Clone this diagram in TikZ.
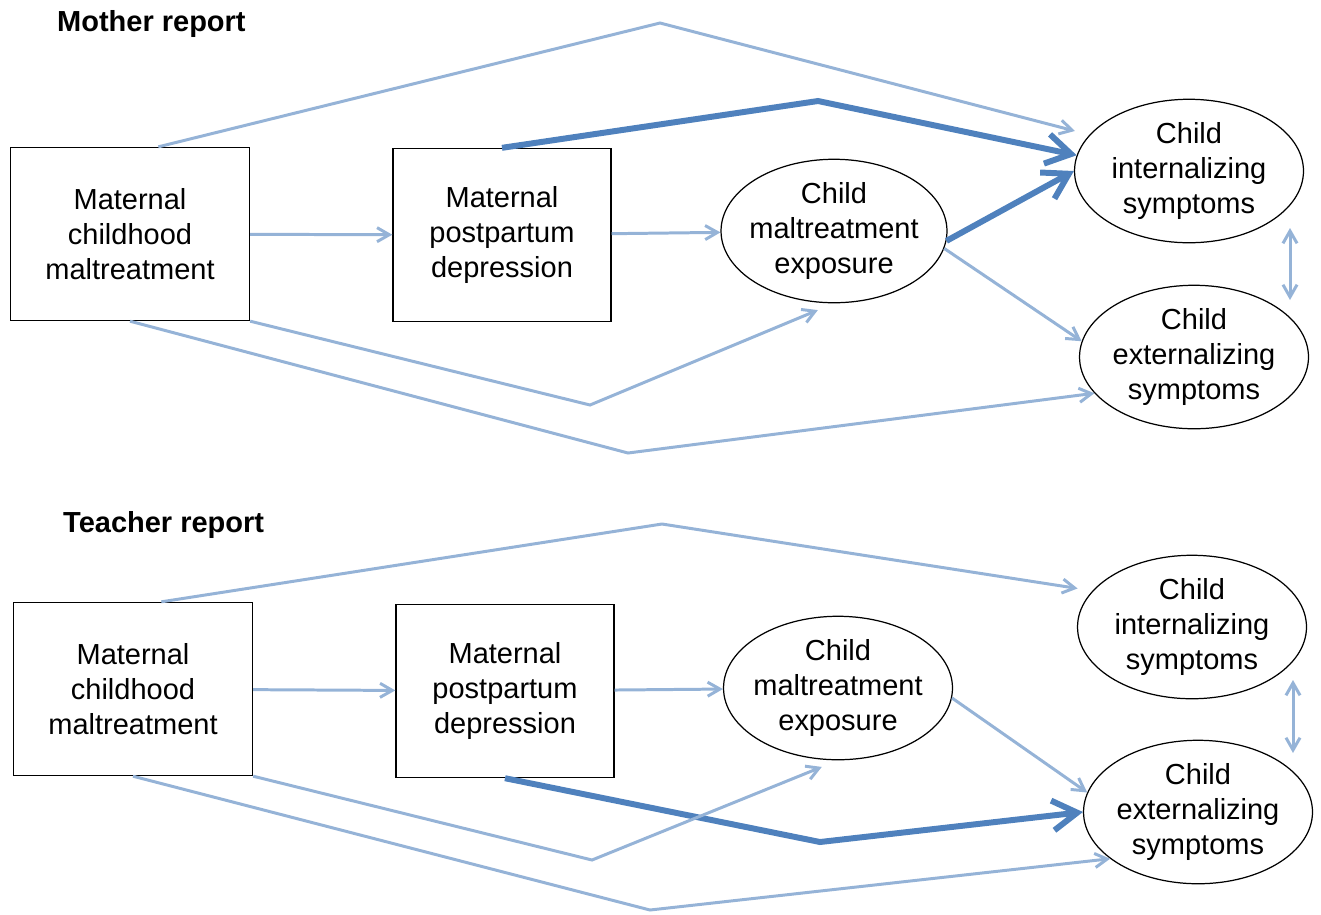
\documentclass[tikz,border=0pt]{standalone}
\usepackage{fontspec}
\setmainfont{Liberation Sans}
\usetikzlibrary{arrows.meta,shapes.geometric}

\definecolor{pathlight}{HTML}{95B3D7}
\definecolor{pathdark}{HTML}{4F81BD}

\begin{document}
\begin{tikzpicture}[x=0.02cm, y=-0.02cm, font=\fontsize{16.5}{20}\selectfont,
  box/.style={rectangle, draw, line width=0.8pt, align=center, minimum width=4.78cm, minimum height=3.46cm},
  oval/.style={ellipse, draw, line width=0.7pt, align=center, inner sep=0pt, inner xsep=-3pt, minimum width=4.58cm, minimum height=2.87cm},
  weak/.style={pathlight, line width=1.7pt, >={Straight Barb[length=7pt, width=8pt]}, ->},
  strong/.style={pathdark, line width=3.4pt, >={Straight Barb[length=14pt, width=17pt]}, ->},
  title/.style={anchor=west, font=\fontsize{16.5}{20}\selectfont\bfseries}]
\useasboundingbox (0,0) rectangle (1321,914);

% Mother report
\node[title] (mtitle) at (51,24) {Mother report};
\node[box] (a1) at (130,234) {Maternal\\childhood\\maltreatment};
\node[box, minimum width=4.36cm] (b1) at (502,235) {Maternal\\postpartum\\depression};
\node[oval, minimum width=4.52cm] (c1) at (834,231) {Child\\maltreatment\\exposure};
\node[oval] (d1) at (1189,171) {Child\\internalizing\\symptoms};
\node[oval] (e1) at (1194,357) {Child\\externalizing\\symptoms};

% Bends
\coordinate (m1) at (660,23);
\coordinate (m2) at (818,101);
\coordinate (m3) at (590,405);
\coordinate (m4) at (628,453);
\coordinate (d1x) at (1290,228);
\coordinate (e1x) at (1290,300);

% Paths
\draw[weak] (a1) -- (b1);
\draw[weak] (b1) -- (c1);
\draw[weak, shorten >=0.3cm] (a1.72) -- (m1) -- (d1.160);
\draw[strong] (b1.north) -- (m2) -- (d1.172);
\draw[strong] (c1.-5) -- (d1.west);
\draw[weak] (c1.-9) -- (e1.172);
\draw[weak, shorten >=0.35cm] (a1.south east) -- (m3) -- (c1.south);
\draw[weak] (a1.south) -- (m4) -- (e1.200);
\draw[weak, <->] (d1x) -- (e1x);

% Teacher report
\node[title] (ttitle) at (57,525) {Teacher report};
\node[box] (a2) at (133,689) {Maternal\\childhood\\maltreatment};
\node[box, minimum width=4.36cm] (b2) at (505,691) {Maternal\\postpartum\\depression};
\node[oval] (c2) at (838,688) {Child\\maltreatment\\exposure};
\node[oval] (d2) at (1192,627) {Child\\internalizing\\symptoms};
\node[oval] (e2) at (1198,812) {Child\\externalizing\\symptoms};

% Bends
\coordinate (n1) at (662,524);
\coordinate (n2) at (820,842);
\coordinate (n3) at (592,860);
\coordinate (n4) at (650,910);
\coordinate (d2x) at (1293,680);
\coordinate (e2x) at (1293,753);

% Paths
\draw[weak] (a2) -- (b2);
\draw[weak] (b2) -- (c2);
\draw[weak, shorten >=0.3cm] (a2.72) -- (n1) -- (d2.160);
\draw[weak] (c2.-5) -- (e2.170);
\draw[strong] (b2.south) -- (n2) -- (e2.west);
\draw[weak, shorten >=0.35cm] (a2.south east) -- (n3) -- (c2.south);
\draw[weak] (a2.south) -- (n4) -- (e2.208);
\draw[weak, <->] (d2x) -- (e2x);
\end{tikzpicture}
\end{document}
